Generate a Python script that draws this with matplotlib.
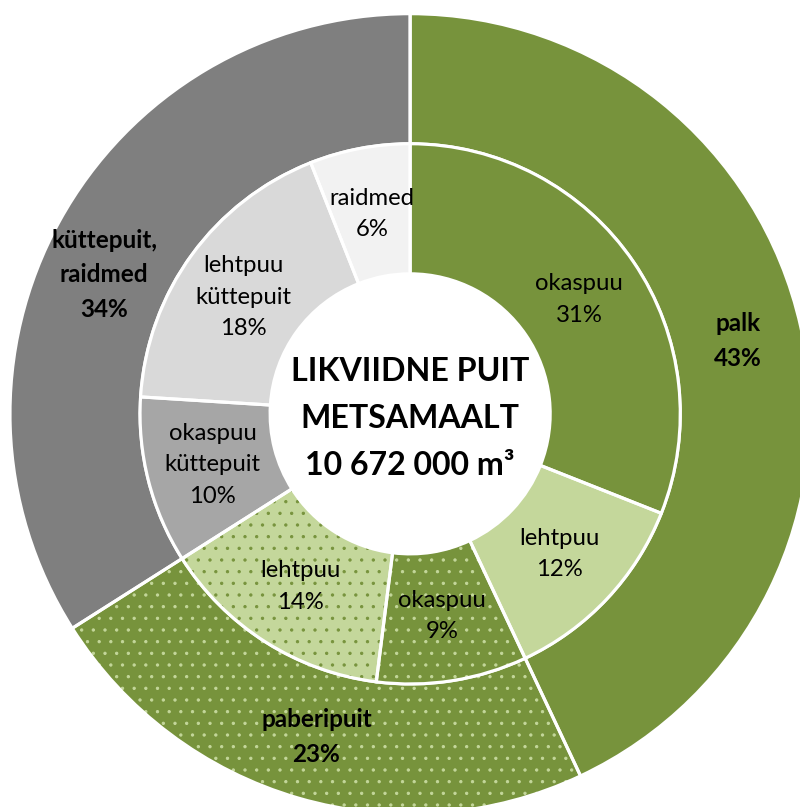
import matplotlib.pyplot as plt
import numpy as np

# andmed
outer_names = ["palk", "paberipuit", "küttepuit,\nraidmed"]
outer_values = [43, 23, 34]
inner_names = ["okaspuu", "lehtpuu", "okaspuu", "lehtpuu",
               "okaspuu\nküttepuit", "lehtpuu\nküttepuit", "raidmed"]
inner_values = [31, 12, 9, 14, 10, 18, 6]
title = "LIKVIIDNE PUIT\nMETSAMAALT\n10 672 000 m³"

olive = "#77933C"
light = "#C4D79B"
outer_colors = [olive, olive, "#7F7F7F"]
inner_colors = [olive, light, olive, light, "#A6A6A6", "#D9D9D9", "#F2F2F2"]
outer_hatch = [None, ".", None]
inner_hatch = [None, None, ".", ".", None, None, None]

# dpi 70 -> hatch dots about 12 px apart
DPI = 70
fig = plt.figure(figsize=(800.3 / DPI, 807.3 / DPI), dpi=DPI)
ax = fig.add_axes([0, 0, 1, 1])

R_OUT, R_MID, R_IN = 1.0, 0.675, 0.35

def ring(values, colors, hatches, radius, width):
    wedges, _ = ax.pie(values, radius=radius, colors=colors, startangle=90,
                       counterclock=False, wedgeprops=dict(width=width, linewidth=0))
    for w, c, h in zip(wedges, colors, hatches):
        if h:
            w.set_hatch(h)
            w.set_edgecolor(light if c == olive else olive)
    # white separators on top
    ax.pie(values, radius=radius, startangle=90, counterclock=False,
           wedgeprops=dict(width=width, facecolor="none", edgecolor="white", linewidth=3.2))
    return wedges

plt.rcParams["hatch.linewidth"] = 1.0
ring(outer_values, outer_colors, outer_hatch, R_OUT, R_OUT - R_MID)
ring(inner_values, inner_colors, inner_hatch, R_MID, R_MID - R_IN)

def labels(values, names, r, bold, size, angle_fix=None):
    total = sum(values)
    cum = np.cumsum([0] + values)
    for i, (v, n) in enumerate(zip(values, names)):
        ang = 90 - (cum[i] + v / 2) / total * 360
        if angle_fix and i in angle_fix:
            ang = angle_fix[i]
        a = np.deg2rad(ang)
        ax.text(r * np.cos(a), r * np.sin(a), f"{n}\n{v}%", ha="center", va="center",
                fontsize=size, fontweight="bold" if bold else "normal",
                family="Lato", color="black", linespacing=1.6)

labels(outer_values, outer_names, 0.84, True, 25, {2: 155.5})
labels(inner_values, inner_names, 0.51, False, 24.5, {5: 145})

ax.text(0, -0.01, title, ha="center", va="center", fontsize=33, fontweight="bold",
        family="Lato", linespacing=1.75)

ax.set_xlim(-1.025, 0.975)
ax.set_ylim(-0.9825, 1.035)
ax.set_aspect("auto")
ax.axis("off")

fig.savefig("out.png", dpi=DPI, facecolor="white")
